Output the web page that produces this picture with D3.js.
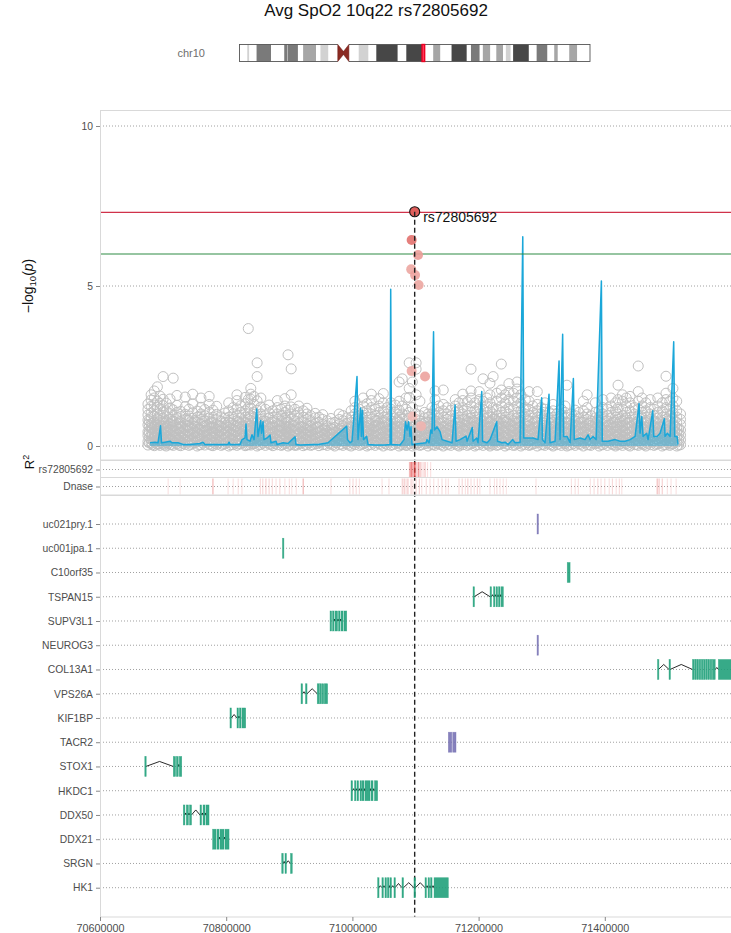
<!DOCTYPE html>
<html><head><meta charset="utf-8">
<script src="https://cdn.jsdelivr.net/npm/d3@7"></script>
<style>
html,body{margin:0;padding:0;background:#fff;}
svg{display:block;font-family:"Liberation Sans",Arial,Helvetica,sans-serif;}
</style>
</head><body>
<svg id="chart" width="731" height="933"></svg>
<script>
// ---------------- DATA ----------------
const titleText = "Avg SpO2 10q22 rs72805692";
const chromName = "chr10";
const chromLengthMb = 135.534747;
// hg19 chr10 cytobands [startMb, endMb, stain]
const chromBands = [
 [0,3,"gneg"],[3,3.8,"gpos25"],[3.8,6.6,"gneg"],[6.6,12.2,"gpos75"],[12.2,17.3,"gneg"],
 [17.3,18.6,"gpos75"],[18.6,18.7,"gneg"],[18.7,22.6,"gpos75"],[22.6,24.6,"gneg"],[24.6,29.6,"gpos50"],
 [29.6,31.3,"gneg"],[31.3,34.4,"gpos25"],[34.4,38,"gneg"],[38,40.2,"acen"],[40.2,42.3,"acen"],
 [42.3,46.1,"gneg"],[46.1,49.9,"gpos25"],[49.9,52.9,"gneg"],[52.9,61.2,"gpos100"],[61.2,64.5,"gneg"],
 [64.5,70.6,"gpos100"],[70.6,74.9,"gneg"],[74.9,77.7,"gpos50"],[77.7,82,"gneg"],[82,87.9,"gpos100"],
 [87.9,89.5,"gneg"],[89.5,92.9,"gpos75"],[92.9,94.1,"gneg"],[94.1,97,"gpos50"],[97,99.3,"gneg"],
 [99.3,101.9,"gpos50"],[101.9,103,"gneg"],[103,104.9,"gpos25"],[104.9,105.8,"gneg"],[105.8,111.9,"gpos100"],
 [111.9,114.9,"gneg"],[114.9,119.1,"gpos75"],[119.1,121.7,"gneg"],[121.7,123.1,"gpos50"],[123.1,127.5,"gneg"],
 [127.5,130.6,"gpos50"],[130.6,135.534747,"gneg"]
];
const highlightMb = [70.6, 71.6];

const xDomain = [70600000, 71600000];
const xTicks = [70600000, 70800000, 71000000, 71200000, 71400000];
const yTicks = [0, 5, 10];
const gwsLine = 7.3;
const suggestiveLine = 6;
const leadSnp = {name: "rs72805692", kb: 71098.7, logp: 7.32};

// SNP association results: [position (kb), -log10(p) values of SNPs around that position...]
const snpColumns = [
 [70676,.03,.14,.33,.45,.66,.81,.97,1.14,1.31],
 [70681,.08,.21,.36,.57,.7,.9,1.03,1.24,1.44,1.6],
 [70686,.01,.13,.29,.4,.6,.73,.92,1.1,1.28,1.5,1.72],
 [70691,.05,.2,.32,.52,.65,.85,1.0,1.2,1.4,1.85],
 [70695,.02,.17,.3,.48,.62,.8,.96,1.16,1.33,1.56],
 [70700,.06,.23,.39,.53,.72,.87,1.07,1.26,1.46,2.17],
 [70705,0,.11,.28,.44,.57,.75,.91,1.1,1.34],
 [70711,.04,.18,.35,.49,.68,.82,1.01,1.19,1.47],
 [70716,.02,.15,.31,.46,.64,.78,.96,1.13,2.12],
 [70722,.07,.24,.37,.56,.7,.89,1.05,1.27,1.58],
 [70728,.01,.12,.26,.43,.59,.73,.92,1.08],
 [70735,.05,.19,.34,.51,.66,.84,.99,1.23,1.53],
 [70741,.02,.16,.3,.47,.62,.8,.94,1.15],
 [70747,.08,.22,.4,.54,.71,.87,1.04,1.31,1.62],
 [70754,0,.13,.27,.41,.58,.74,.9,1.09],
 [70760,.04,.2,.33,.5,.68,.83,1.0,1.21,1.5],
 [70766,.03,.15,.32,.46,.63,.79,.95,1.14],
 [70773,.06,.21,.38,.55,.7,.88,1.06,1.3,1.55],
 [70779,.01,.12,.28,.42,.57,.74,.9,1.12],
 [70785,.05,.18,.34,.51,.67,.82,.99,1.24],
 [70792,.02,.16,.3,.47,.62,.78,.91],
 [70798,.07,.23,.39,.55,.72,.87,1.03],
 [70804,0,.11,.27,.43,.58,.75,.9,1.1,1.35],
 [70811,.04,.19,.35,.5,.66,.83,1.01,1.2],
 [70817,.02,.15,.31,.48,.63,.79,.95,1.16,1.42,1.6],
 [70823,.07,.22,.37,.54,.71,.88,1.05,1.26],
 [70830,.01,.13,.27,.42,.59,.74,.9,1.1,1.32,1.52],
 [70835,.04,.19,.34,.5,.67,.84,1.0,1.2,1.45,3.67],
 [70839,.03,.16,.31,.47,.63,.79,.95,1.18,1.46,1.62,1.8],
 [70844,.07,.22,.38,.55,.71,.88,1.06,1.3,1.55],
 [70849,0,.12,.27,.43,.58,.74,.9,1.12,1.41,2.17,2.6],
 [70855,.05,.19,.35,.5,.67,.83,1.0,1.22,1.5],
 [70862,.02,.16,.31,.46,.63,.78,.95,1.15],
 [70868,.06,.22,.38,.55,.7,.88,1.04,1.28],
 [70874,.01,.12,.27,.42,.58,.74,.9,1.1],
 [70881,.04,.19,.34,.5,.67,.83,1.0,1.2,1.42],
 [70887,.02,.16,.31,.47,.63,.79,.95,1.15],
 [70893,.07,.22,.38,.55,.71,.88,1.05,1.25,1.48],
 [70898,0,.12,.27,.42,.58,.74,.9,1.12,2.85],
 [70903,.04,.19,.34,.5,.67,.83,1.0,1.22,1.6,2.41],
 [70909,.02,.15,.32,.47,.64,.79,.95,1.15],
 [70915,.07,.22,.38,.54,.71,.88,1.05,1.25],
 [70922,.01,.12,.27,.42,.58,.75,.9,1.1],
 [70928,.04,.19,.34,.5,.67,.83,1.0,1.18],
 [70934,.02,.16,.31,.47,.63,.79,.95],
 [70941,.07,.22,.38,.55,.71,.88,1.02],
 [70947,.01,.12,.27,.42,.58,.74,.9],
 [70953,.04,.19,.34,.5,.67,.83,.98],
 [70960,.02,.16,.31,.47,.63,.79],
 [70966,.07,.22,.38,.55,.71,.86],
 [70972,0,.12,.27,.42,.58,.74],
 [70979,.04,.19,.34,.5,.67,.83,1.0],
 [70985,.02,.16,.31,.47,.63,.79,.95],
 [70991,.07,.22,.38,.55,.71,.88],
 [70998,0,.12,.27,.42,.58,.74,.9,1.1],
 [71004,.04,.19,.34,.5,.67,.83,1.0,1.2,1.4],
 [71011,.02,.16,.31,.47,.63,.79,.95,1.15],
 [71017,.07,.22,.38,.55,.71,.88,1.05,1.25,1.5],
 [71023,0,.12,.27,.42,.58,.74,.9,1.1,1.32],
 [71030,.04,.19,.34,.5,.67,.83,1.0,1.2,1.42,1.62],
 [71036,.02,.16,.31,.47,.63,.79,.95,1.15],
 [71042,.07,.22,.38,.55,.71,.88,1.05,1.25,1.48],
 [71049,0,.12,.27,.42,.58,.74,.9,1.1,1.35,1.64],
 [71055,.04,.19,.34,.5,.67,.83,1.0,1.2],
 [71061,.02,.16,.31,.47,.63,.79,.95,1.15,1.35],
 [71068,.07,.22,.38,.55,.71,.88,1.05,1.28],
 [71074,0,.12,.27,.42,.58,.74,.9,1.12,1.4,2.0],
 [71079,.04,.19,.34,.5,.67,.83,1.0,1.25,2.1],
 [71085,.02,.16,.31,.47,.63,.79,.95,1.15,1.5],
 [71090,.07,.22,.38,.55,.71,.88,1.05,1.52,1.8,2.6],
 [71095,0,.12,.27,.42,.58,.74,1.2,2.0],
 [71101,.04,.19,.34,.5,.67,.83,1.0,1.6,2.4,2.6],
 [71107,.02,.16,.31,.47,.63,.79,.95,1.4],
 [71114,.07,.22,.38,.55,.71,.88,1.05],
 [71120,0,.12,.27,.42,.58,.74,.9,1.0],
 [71126,.04,.19,.34,.5,.67,.83,1.0,1.2],
 [71131,.02,.16,.31,.47,.63,.79,.95,1.15,1.45,1.72],
 [71137,.07,.22,.38,.55,.71,.88,1.05,1.25],
 [71144,0,.12,.27,.42,.58,.74,.9,1.1,1.3,1.75],
 [71150,.04,.19,.34,.5,.67,.83,1.0,1.2],
 [71156,.02,.16,.31,.47,.63,.79,.95,1.12],
 [71163,.07,.22,.38,.55,.71,.88,1.05,1.25,1.45],
 [71169,0,.12,.27,.42,.58,.74,.9,1.1,1.35],
 [71175,.04,.19,.34,.5,.67,.83,1.0,1.2,1.42,1.62],
 [71182,.02,.16,.31,.47,.63,.79,.95,1.15,1.38],
 [71188,.07,.22,.38,.55,.71,.88,1.05,1.25,1.5,1.72,2.4],
 [71194,0,.12,.27,.42,.58,.74,.9,1.1,1.35],
 [71201,.04,.19,.34,.5,.67,.83,1.0,1.2,1.45,1.7],
 [71207,.02,.16,.31,.47,.63,.79,.95,1.15,1.4,2.1],
 [71213,.07,.22,.38,.55,.71,.88,1.05,1.25,1.5],
 [71218,0,.12,.27,.42,.58,.74,.9,1.1,1.35,1.6,1.96],
 [71223,.04,.19,.34,.5,.67,.83,1.0,1.2,2.17],
 [71229,.02,.16,.31,.47,.63,.79,.95,1.15,1.4,1.65],
 [71236,.07,.22,.38,.55,.71,.88,1.05,1.25,1.5,1.75,2.56],
 [71242,0,.12,.27,.42,.58,.74,.9,1.1,1.35,1.6],
 [71248,.04,.19,.34,.5,.67,.83,1.0,1.2,1.45,1.7,1.95],
 [71255,.02,.16,.31,.47,.63,.79,.95,1.15,1.4,1.65],
 [71261,.07,.22,.38,.55,.71,.88,1.05,1.25,1.5,1.78,2.0],
 [71267,0,.12,.27,.42,.58,.74,.9,1.1,1.35,1.6],
 [71274,.04,.19,.34,.5,.67,.83,1.0,1.2,1.45],
 [71280,.02,.16,.31,.47,.63,.79,.95,1.15,1.4,1.7],
 [71286,.07,.22,.38,.55,.71,.88,1.05,1.25],
 [71293,0,.12,.27,.42,.58,.74,.9,1.1,1.3,1.7],
 [71299,.04,.19,.34,.5,.67,.83,1.0,1.2],
 [71305,.02,.16,.31,.47,.63,.79,.95,1.15,1.35],
 [71312,.07,.22,.38,.55,.71,.88,1.05],
 [71318,0,.12,.27,.42,.58,.74,.9,1.1,1.3],
 [71324,.04,.19,.34,.5,.67,.83,1.0],
 [71331,.02,.16,.31,.47,.63,.79,.95,1.15],
 [71337,.07,.22,.38,.55,.71,.88,1.05,1.25],
 [71340,0,.12,.27,.42,.58,.74,.9,1.9],
 [71347,.04,.19,.34,.5,.67,.83,1.0],
 [71353,.02,.16,.31,.47,.63,.79,.95,1.12],
 [71359,.07,.22,.38,.55,.71,.88,1.05],
 [71366,0,.12,.27,.42,.58,.74,.9,1.1,1.4],
 [71372,.04,.19,.34,.5,.67,.83,1.0,1.2,1.6],
 [71378,.02,.16,.31,.47,.63,.79,.95],
 [71385,.07,.22,.38,.55,.71,.88,1.05,1.35],
 [71391,0,.12,.27,.42,.58,.74,.9,1.1],
 [71397,.04,.19,.34,.5,.67,.83,1.0,1.2,1.45],
 [71404,.02,.16,.31,.47,.63,.79,.95,1.15],
 [71410,.07,.22,.38,.55,.71,.88,1.05,1.25,1.5],
 [71417,0,.12,.27,.42,.58,.74,.9,1.1,1.35],
 [71421,.04,.19,.34,.5,.67,.83,1.0,1.2,1.45,1.9],
 [71428,.02,.16,.31,.47,.63,.79,.95,1.15,1.4,1.6],
 [71434,.07,.22,.38,.55,.71,.88,1.05,1.25,1.5],
 [71440,0,.12,.27,.42,.58,.74,.9,1.1,1.35,1.55],
 [71447,.04,.19,.34,.5,.67,.83,1.0,1.2],
 [71453,.02,.16,.31,.47,.63,.79,.95,1.15,1.4,1.7,2.5],
 [71459,.07,.22,.38,.55,.71,.88,1.05,1.25,1.5],
 [71465,0,.12,.27,.42,.58,.74,.9,1.1,1.35],
 [71472,.04,.19,.34,.5,.67,.83,1.0,1.2,1.45],
 [71478,.02,.16,.31,.47,.63,.79,.95,1.15],
 [71484,.07,.22,.38,.55,.71,.88,1.05,1.25,1.5],
 [71491,0,.12,.27,.42,.58,.74,.9,1.1,1.35],
 [71497,.04,.19,.34,.5,.67,.83,1.0,1.2,1.45,1.65,2.18],
 [71503,.02,.16,.31,.47,.63,.79,.95,1.15,1.4],
 [71508,.07,.22,.38,.55,.71,.88,1.05,1.25,1.5,1.8],
 [71514,0,.12,.27,.42,.58,.74,.9,1.1,1.4],
 [71520,.04,.19,.34,.5,.67,.83,1.0]
];
// additional low-significance SNPs lying between the columns above
const snpColumnsLow = [
 [70678,.1,.26,.44,.6,.78],[70683,.04,.2,.37,.53,.7],[70688,.12,.3,.48,.66],[70693,.07,.23,.41,.57,.75],
 [70697,.1,.27,.45,.62],[70702,.03,.19,.36,.55,.72],[70708,.09,.25,.43,.61],[70713,.05,.22,.4,.58,.76],
 [70719,.11,.29,.46,.64],[70725,.03,.18,.35,.52,.7],[70731,.08,.26,.42,.6],[70738,.12,.28,.47,.63,.8],
 [70744,.05,.21,.38,.56],[70750,.1,.27,.44,.62,.79],[70757,.04,.2,.36,.54],[70763,.09,.25,.43,.6,.77],
 [70769,.12,.3,.47,.65],[70776,.03,.19,.37,.55,.72],[70782,.08,.24,.41,.58],[70788,.1,.27,.45,.63],
 [70795,.05,.21,.38,.55],[70801,.11,.28,.46,.64],[70807,.04,.2,.37,.53,.71],[70814,.09,.26,.44,.61],
 [70820,.06,.22,.39,.57,.74],[70826,.1,.28,.45,.62],[70832,.03,.19,.36,.54,.72],[70837,.12,.29,.47,.65],
 [70841,.07,.23,.4,.58],[70846,.1,.26,.43,.61,.79],[70852,.04,.21,.38,.56],[70858,.09,.25,.42,.6,.77],
 [70865,.11,.28,.46,.63],[70871,.05,.22,.39,.57],[70877,.08,.24,.41,.59,.76],[70884,.12,.3,.47,.64],
 [70890,.04,.2,.37,.55],[70895,.1,.27,.44,.62,.8],[70900,.06,.23,.4,.58],[70906,.11,.28,.45,.63],
 [70912,.03,.19,.36,.54],[70918,.09,.26,.43,.6],[70925,.05,.21,.39,.56],[70931,.1,.27,.44,.61],
 [70937,.04,.2,.37,.53],[70944,.08,.25,.42,.58],[70950,.12,.28,.45],[70956,.05,.22,.38,.55],
 [70963,.09,.25,.41],[70969,.04,.2,.36,.52],[70975,.1,.27,.43],[70982,.06,.22,.39,.56],
 [70988,.11,.28,.44],[70994,.03,.19,.36,.53],[71001,.08,.24,.41,.59],[71007,.12,.29,.46,.64],
 [71014,.05,.21,.38,.56,.74],[71020,.1,.26,.43,.61],[71026,.04,.2,.37,.55,.72],[71033,.09,.25,.42,.6],
 [71039,.11,.28,.46,.64,.8],[71045,.05,.22,.39,.57],[71052,.08,.24,.41,.59,.76],[71058,.12,.3,.47,.65],
 [71064,.04,.2,.37,.55],[71071,.1,.27,.44,.62,.79],[71076,.06,.23,.4,.58],[71082,.11,.28,.45,.63],
 [71087,.03,.19,.36,.54],[71092,.09,.26,.43],[71098,.05,.21,.39],[71104,.1,.27,.44,.61],
 [71110,.04,.2,.37,.53,.7],[71117,.08,.25,.42,.58],[71123,.12,.28,.45,.62],[71128,.05,.22,.38,.55,.73],
 [71134,.09,.25,.41,.6],[71140,.04,.2,.36,.52,.7],[71147,.1,.27,.43,.61],[71153,.06,.22,.39,.56],
 [71159,.11,.28,.44,.62],[71166,.03,.19,.36,.53,.71],[71172,.08,.24,.41,.59],[71178,.12,.29,.46,.64,.82],
 [71185,.05,.21,.38,.56,.74],[71191,.1,.26,.43,.61,.79],[71197,.04,.2,.37,.55,.72],[71204,.09,.25,.42,.6,.78],
 [71210,.11,.28,.46,.64],[71215,.05,.22,.39,.57,.75],[71220,.08,.24,.41,.59,.77],[71226,.12,.3,.47,.65,.83],
 [71232,.04,.2,.37,.55,.73],[71239,.1,.27,.44,.62,.8],[71245,.06,.23,.4,.58,.76],[71251,.11,.28,.45,.63],
 [71258,.03,.19,.36,.54,.72],[71264,.09,.26,.43,.6,.78],[71270,.05,.21,.39,.56],[71277,.1,.27,.44,.61,.79],
 [71283,.04,.2,.37,.53],[71289,.08,.25,.42,.58,.76],[71296,.12,.28,.45,.62],[71302,.05,.22,.38,.55,.73],
 [71308,.09,.25,.41,.6],[71315,.04,.2,.36,.52,.7],[71321,.1,.27,.43,.61],[71327,.06,.22,.39,.56,.74],
 [71334,.11,.28,.44,.62],[71343,.03,.19,.36,.53,.71],[71350,.08,.24,.41,.59],[71356,.12,.29,.46,.64],
 [71362,.05,.21,.38,.56,.74],[71369,.1,.26,.43,.61],[71375,.04,.2,.37,.55,.72],[71381,.09,.25,.42,.6],
 [71388,.11,.28,.46,.64,.8],[71394,.05,.22,.39,.57],[71400,.08,.24,.41,.59,.77],[71407,.12,.3,.47,.65],
 [71413,.04,.2,.37,.55,.73],[71419,.1,.27,.44,.62],[71424,.06,.23,.4,.58,.76],[71431,.11,.28,.45,.63,.81],
 [71437,.03,.19,.36,.54,.72],[71443,.09,.26,.43,.6],[71450,.05,.21,.39,.56,.74],[71456,.1,.27,.44,.61],
 [71462,.04,.2,.37,.53,.71],[71468,.08,.25,.42,.58,.76],[71475,.12,.28,.45,.62],[71481,.05,.22,.38,.55,.73],
 [71487,.09,.25,.41,.6],[71494,.04,.2,.36,.52,.7],[71500,.1,.27,.43,.61,.79],[71505,.06,.22,.39,.56],
 [71511,.11,.28,.44,.62],[71517,.03,.19,.36,.53]
];

// SNPs in LD with the lead SNP: [position (kb), -log10(p), r2]
const ldSnps = [
 [71093.9,6.44,.85],[71104.0,5.97,.5],[71093.2,5.52,.42],[71099.3,5.34,.45],[71105.0,5.03,.42],
 [71093.9,2.34,.38],[71115.1,2.17,.45],[71095.4,0.92,.22],[71108.8,0.62,.3]
];

// blue signal track: [position (kb), value]
const trackLine = [
 [70679.3,.1],[70687.2,.12],[70691.9,.1],[70695.9,.63],[70697.5,.1],[70703,.12],[70711,.15],[70714.1,.1],
 [70723.6,.1],[70731.6,.05],[70742.7,.05],[70758.5,.08],[70763.3,.12],[70766.4,.05],[70782.3,.05],
 [70802.9,.05],[70804.5,.12],[70806.1,.05],[70821.9,.05],[70825.1,.2],[70829.8,.25],[70831.4,.69],
 [70833,.2],[70837.8,.15],[70840.9,.35],[70844.1,.2],[70848.4,1.16],[70850.4,.3],[70854.7,.8],
 [70856,.4],[70858.4,.76],[70859.9,.2],[70864.7,.25],[70869.5,.34],[70871,.1],[70879,.15],[70880.5,.05],
 [70890.1,.1],[70898,.08],[70904.3,.2],[70909.1,.29],[70910.7,.05],[70917,.03],[70937.6,.05],
 [70945.5,.05],[70961.4,.1],[70991,.62],[70992.3,.2],[70996.3,.1],[70999.4,.15],[71007.3,2.17],
 [71008.9,.2],[71013.1,1.19],[71014.3,.3],[71016,1.12],[71017.6,.2],[71022.6,.3],[71024.8,.05],
 [71035.9,.03],[71051.7,.03],[71059.7,.05],[71060.7,4.9],[71062,.05],[71075.5,.03],[71081.8,.2],
 [71084.2,.76],[71086.6,.5],[71089,.76],[71091.4,.3],[71092.9,.6],[71094.5,.05],[71107.2,.08],
 [71116.7,.1],[71118.3,.2],[71121.5,.1],[71124.2,.5],[71126.2,.4],[71127.3,2.06],[71128.6,3.57],
 [71130.2,.5],[71134.1,.6],[71138.9,.45],[71142.1,.2],[71150,.15],[71157.9,.1],[71162.7,1.28],
 [71164.3,.15],[71170.6,.2],[71180.1,.31],[71181.7,.15],[71190,.58],[71191.2,.15],[71197,.25],
 [71199.1,.1],[71205,1.7],[71206.3,.15],[71213.4,.1],[71218.2,.2],[71228.8,.76],[71230,.15],
 [71237.2,.1],[71241.9,.12],[71246.7,.05],[71254.1,.2],[71257.8,.1],[71265.7,.12],[71270,6.54],
 [71271.6,.25],[71276.8,.25],[71286.3,.25],[71294.2,.2],[71300,1.51],[71301.2,.2],[71305.3,.1],
 [71311.6,1.62],[71313.2,.1],[71321.2,.15],[71327.5,2.66],[71329.1,.2],[71333.2,3.49],[71334.8,.3],
 [71340.2,.3],[71345,.1],[71350.2,2.11],[71351.6,.2],[71360.8,.25],[71368.7,.2],[71373.5,.35],
 [71376.7,.2],[71381.4,.3],[71386.2,.2],[71394.6,5.16],[71396,.15],[71405.2,.15],[71416.3,.2],
 [71424.2,.15],[71432.1,.15],[71440.1,.2],[71448,.3],[71454.3,1.33],[71455.9,.4],[71458.6,.92],
 [71460.7,.3],[71466.4,.4],[71468.6,.2],[71476,1.1],[71477.6,.3],[71482.8,.3],[71487.6,.4],
 [71494.4,.85],[71495.5,.3],[71499.2,.4],[71503.5,.3],[71509.2,3.26],[71510.8,.3],[71514.5,.3],[71516.1,.05]
];

const trackNames = ["rs72805692", "Dnase"];
// LD (r2) with rs72805692: [position (kb), r2]
const ldTicks = [
 [71090.5,.4],[71092,.6],[71093.9,.85],[71095.4,.3],[71096.5,.55],[71098.7,1],[71099.3,.5],[71101,.45],
 [71104,.5],[71105,.45],[71107,.35],[71108.8,.3],[71112,.25],[71115.1,.4],[71119,.2],[71124,.2]
];
// DNase hypersensitivity sites: [position (kb), score]
const dnaseTicks = [
 [70708,.3],[70727,.25],[70779,.8],[70803,.3],[70811,.3],[70819,.3],[70825,.3],[70854,.4],[70858,.4],
 [70863,.5],[70868,.4],[70873,.4],[70879,.3],[70885,.4],[70893,.3],[70900,.3],[70904,.25],[70911,.3],
 [70922,.8],[70966,.3],[70996,.35],[71001,.4],[71006,.35],[71011,.3],[71047,.3],[71058,.3],[71079,.5],
 [71082,.6],[71085,.4],[71088,.6],[71093,.5],[71096,.4],[71101,.4],[71106,.5],[71110,.3],[71117,.35],
 [71123,.3],[71129,.3],[71136,.3],[71142,.35],[71148,.3],[71152,.3],[71169,.35],[71174,.4],[71179,.3],
 [71183,.45],[71188,.35],[71193,.3],[71198,.4],[71202,.3],[71218,.3],[71225,.3],[71229,.35],[71234,.3],
 [71239,.3],[71244,.25],[71291,.3],[71347,.3],[71353,.3],[71358,.3],[71377,.3],[71383,.35],[71389,.4],
 [71394,.3],[71400,.35],[71407,.3],[71412,.4],[71418,.3],[71423,.35],[71427,.3],[71483,.7],[71486,.6],
 [71491,.5],[71499,.3],[71505,.3],[71513,.3]
];

const geneNames = ["uc021pry.1","uc001jpa.1","C10orf35","TSPAN15","SUPV3L1","NEUROG3","COL13A1","VPS26A",
 "KIF1BP","TACR2","STOX1","HKDC1","DDX50","DDX21","SRGN","HK1"];
const geneGroup = ["b","a","a","a","a","b","a","a","a","b","a","a","a","a","a","a"];
// exons per gene [startKb, endKb]
const geneExons = [
 [[71292.6,71293.8]],
 [[70889.2,70890.4]],
 [[71340.5,71345]],
 [[71191.2,71193],[71218.2,71220.3],[71223.7,71225.3],[71227.7,71230],[71231.6,71234],[71235.6,71239.2]],
 [[70964.6,70967],[70968.5,70970.9],[70972.5,70976.4],[70978,70980.4],[70982,70985.2],[70986.7,70991]],
 [[71292.6,71294]],
 [[71483.5,71485],[71501.8,71503.4],[71539,71541.5],[71542.5,71545],[71546,71548.5],[71549.5,71552],
  [71553,71555.5],[71556.5,71559],[71560,71562.5],[71563.5,71566],[71567,71569.5],[71570.5,71575],[71580,71605]],
 [[70918.6,70921],[70925.7,70928.1],[70944.3,70947],[70948,70951],[70952,70954.5],[70955.5,70960.7]],
 [[70806,70808],[70817.1,70819.4],[70821,70823.5],[70825,70830.9]],
 [[71152,71157.5],[71159,71164.2]],
 [[70671,70672.6],[70716.2,70719.7],[70721.1,70724],[70725.7,70729.5]],
 [[70997.8,71000.2],[71003.4,71005],[71007.3,71009.8],[71012.1,71013.7],[71015.3,71018.4],[71020,71027.9],
  [71029.5,71032.7],[71035,71040]],
 [[70732,70734.6],[70736.8,70740.1],[70741.9,70745],[70758.5,70760.9],[70763.3,70766.4],[70768,70772.8]],
 [[70778.5,70783.9],[70785.4,70788.6],[70790.2,70796.5],[70798.1,70804.5]],
 [[70888,70890.4],[70893.2,70894.8],[70901.9,70904.7]],
 [[71040,71041.6],[71046.8,71048.4],[71051.6,71054],[71055.5,71057.9],[71059.5,71061.9],[71065.9,71067.5],
  [71078.6,71081],[71097.6,71100],[71115.1,71116.7],[71119.9,71122.2],[71123.8,71126.2],[71129.4,71152]]
];

// ---------------- DRAWING ----------------
const svg = d3.select("#chart");
const L = 100, R = 731;
const TXT = "#4d4d4d", BORDER = "#d9d9d9", GRID = "#a0a0a0";
const x = d3.scaleLinear().domain(xDomain).range([L, R]);
const kbx = k => x(k * 1000);

const defs = svg.append("defs");
defs.append("clipPath").attr("id","clipPanels").append("rect").attr("x",L).attr("y",100).attr("width",R-L+5).attr("height",830);

// Title
svg.append("text").attr("x",376).attr("y",15.5).attr("text-anchor","middle")
  .attr("font-size",17).attr("fill","#111").text(titleText);

// Ideogram
const ix = d3.scaleLinear().domain([0, chromLengthMb]).range([239.5, 590]);
const iy0 = 44.5, iy1 = 61.5, imid = (iy0 + iy1) / 2;
const stainColor = {gneg:"#ffffff", gpos25:"#d2d2d2", gpos50:"#a6a6a6", gpos75:"#7a7a7a", gpos100:"#474747"};
const ideo = svg.append("g");
ideo.selectAll("rect.band").data(chromBands.filter(b => b[2] !== "acen")).join("rect")
  .attr("class","band").attr("x", d => ix(d[0])).attr("y", iy0)
  .attr("width", d => ix(d[1]) - ix(d[0])).attr("height", iy1 - iy0).attr("fill", d => stainColor[d[2]]);
ideo.append("rect").attr("x", ix(0)).attr("y", iy0).attr("width", ix(chromLengthMb) - ix(0)).attr("height", iy1 - iy0)
  .attr("fill","none").attr("stroke","#555").attr("stroke-width",0.9);
const acen = chromBands.filter(b => b[2] === "acen");
ideo.append("rect").attr("x", ix(acen[0][0])).attr("y", iy0 - 1).attr("width", ix(acen[1][1]) - ix(acen[0][0])).attr("height", iy1 - iy0 + 2).attr("fill","#fff");
ideo.append("polygon").attr("points", [[ix(acen[0][0]),iy0],[ix(acen[0][1]),imid-1.5],[ix(acen[0][1]),imid+1.5],[ix(acen[0][0]),iy1]].join(" "))
  .attr("fill","#8b2a22").attr("stroke","#6b1a14").attr("stroke-width",0.5);
ideo.append("polygon").attr("points", [[ix(acen[1][0]),imid-1.5],[ix(acen[1][1]),iy0],[ix(acen[1][1]),iy1],[ix(acen[1][0]),imid+1.5]].join(" "))
  .attr("fill","#8b2a22").attr("stroke","#6b1a14").attr("stroke-width",0.5);
ideo.append("rect").attr("x", ix(highlightMb[0])).attr("y", iy0).attr("width", Math.max(2.5, ix(highlightMb[1]) - ix(highlightMb[0]))).attr("height", iy1 - iy0)
  .attr("fill","#ff3b5c").attr("stroke","#ee0022").attr("stroke-width",1.4);
svg.append("text").attr("x",205).attr("y",57).attr("text-anchor","end").attr("font-size",11).attr("fill","#6e6e6e").text(chromName);

// ---- main panel ----
const mainTop = 110, mainBot = 460;
const y = d3.scaleLinear().domain([-0.4375, 10.5]).range([mainBot, mainTop]);
const main = svg.append("g");
main.selectAll("line.grid").data(yTicks).join("line").attr("class","grid")
  .attr("x1",L).attr("x2",R).attr("y1",d=>y(d)).attr("y2",d=>y(d))
  .attr("stroke",GRID).attr("stroke-width",1).attr("stroke-dasharray","1,2");

const snps = snpColumns.concat(snpColumnsLow).flatMap(c => c.slice(1).map(v => ({kb: c[0], logp: v})));
main.append("g").selectAll("circle").data(snps).join("circle")
  .attr("cx", d => kbx(d.kb)).attr("cy", d => y(d.logp)).attr("r",5)
  .attr("fill","none").attr("stroke","#c0c0c0").attr("stroke-width",1);

const area = d3.area().x(d => kbx(d[0])).y0(y(0)).y1(d => y(d[1]));
const line = d3.line().x(d => kbx(d[0])).y(d => y(d[1]));
main.append("path").datum(trackLine).attr("d", area).attr("fill","#1ea7d8").attr("fill-opacity",0.45);
main.append("path").datum(trackLine).attr("d", line).attr("fill","none").attr("stroke","#1aa7d9").attr("stroke-width",1.5).attr("stroke-linejoin","round");

main.append("line").attr("x1",L).attr("x2",R).attr("y1",y(gwsLine)).attr("y2",y(gwsLine)).attr("stroke","#d0324a").attr("stroke-width",1.2);
main.append("line").attr("x1",L).attr("x2",R).attr("y1",y(suggestiveLine)).attr("y2",y(suggestiveLine)).attr("stroke","#2e8b45").attr("stroke-width",1.2);

const ldColor = d3.scaleLinear().domain([0,1]).range(["#f6d9d3","#df5f5c"]).interpolate(d3.interpolateRgb);
main.append("g").selectAll("circle").data(ldSnps).join("circle")
  .attr("cx", d => kbx(d[0])).attr("cy", d => y(d[1])).attr("r",5)
  .attr("fill", d => ldColor(d[2])).attr("fill-opacity",0.9).attr("stroke","none");

// dashed vertical line through all panels
svg.append("line").attr("x1",kbx(leadSnp.kb)).attr("x2",kbx(leadSnp.kb)).attr("y1",y(leadSnp.logp)).attr("y2",917)
  .attr("stroke","#222").attr("stroke-width",1.4).attr("stroke-dasharray","5,3");

main.append("circle").attr("cx",kbx(leadSnp.kb)).attr("cy",y(leadSnp.logp)).attr("r",5)
  .attr("fill",ldColor(1)).attr("stroke","#111").attr("stroke-width",1.1);
main.append("text").attr("x",kbx(leadSnp.kb)+8.5).attr("y",y(leadSnp.logp)+10.5).attr("font-size",14).attr("fill","#111").text(leadSnp.name);

main.append("rect").attr("x",L+0.5).attr("y",mainTop+0.5).attr("width",R-L+10).attr("height",mainBot-mainTop-0.5)
  .attr("fill","none").attr("stroke",BORDER);
const yAxis = d3.axisLeft(y).tickValues(yTicks).tickSize(4).tickPadding(3).tickFormat(d3.format("d"));
svg.append("g").attr("class","ax").attr("transform",`translate(${L},0)`).call(yAxis);

// y label
const ylab = svg.append("text").attr("transform","translate(33,286) rotate(-90)").attr("text-anchor","middle")
  .attr("font-size",14).attr("fill","#111");
ylab.append("tspan").text("\u2212log");
ylab.append("tspan").attr("font-size",9.5).attr("dy",3).text("10");
ylab.append("tspan").attr("dy",-3).text("(");
ylab.append("tspan").attr("font-style","italic").text("p");
ylab.append("tspan").text(")");

// ---- LD / Dnase tracks ----
const trackY = d3.scalePoint().domain(trackNames).range([469.5, 486.5]);
const tracks = svg.append("g");
tracks.selectAll("line.grid").data(trackNames).join("line").attr("class","grid")
  .attr("x1",L).attr("x2",R).attr("y1",d=>trackY(d)).attr("y2",d=>trackY(d))
  .attr("stroke",GRID).attr("stroke-dasharray","1,2");
tracks.append("g").selectAll("line").data(ldTicks).join("line")
  .attr("x1",d=>kbx(d[0])).attr("x2",d=>kbx(d[0])).attr("y1",462).attr("y2",477)
  .attr("stroke","#e23b3b").attr("stroke-opacity",d=>d[1]*0.75).attr("stroke-width",1.2);
tracks.append("g").selectAll("line").data(dnaseTicks).join("line")
  .attr("x1",d=>kbx(d[0])).attr("x2",d=>kbx(d[0])).attr("y1",478.5).attr("y2",494.5)
  .attr("stroke","#de4a4a").attr("stroke-opacity",d=>d[1]*0.6).attr("stroke-width",1);
tracks.append("rect").attr("x",L+0.5).attr("y",460.5).attr("width",R-L+10).attr("height",17).attr("fill","none").attr("stroke",BORDER);
tracks.append("rect").attr("x",L+0.5).attr("y",477.5).attr("width",R-L+10).attr("height",17.5).attr("fill","none").attr("stroke",BORDER);
svg.append("g").attr("class","ax").attr("transform",`translate(${L},0)`).call(d3.axisLeft(trackY).tickSize(4).tickPadding(3));
svg.append("text").attr("transform","translate(34,462) rotate(-90)").attr("text-anchor","middle")
  .attr("font-size",13).attr("fill","#111").text("R").append("tspan").attr("font-size",9).attr("dy",-5).text("2");

// ---- Gene track ----
const geneTop = 495, geneBot = 917;
const gyScale = d3.scalePoint().domain(geneNames).range([524, 887.7]);
const genes = svg.append("g").attr("clip-path","url(#clipPanels)");
genes.selectAll("line.grid").data(geneNames).join("line").attr("class","grid")
  .attr("x1",L).attr("x2",R).attr("y1",d=>gyScale(d)).attr("y2",d=>gyScale(d))
  .attr("stroke",GRID).attr("stroke-dasharray","1,2");
const groupColor = {a:"#1b9e77", b:"#7570b3"};
geneNames.forEach((name, i) => {
  const cy = gyScale(name);
  const ex = geneExons[i];
  const col = groupColor[geneGroup[i]];
  const g = genes.append("g");
  for (let j = 0; j < ex.length - 1; j++) {
    const a = kbx(ex[j][1]), b = kbx(ex[j+1][0]);
    if (b - a < 1) continue;
    const m = (a + b) / 2;
    const h = Math.min(5, Math.max(2, (b - a) * 0.6));
    g.append("path").attr("d", `M${a},${cy}L${m},${cy-h}L${b},${cy}`)
      .attr("fill","none").attr("stroke","#111").attr("stroke-width",0.9);
  }
  g.selectAll("rect").data(ex).join("rect")
    .attr("x", d => kbx(d[0])).attr("y", cy - 10)
    .attr("width", d => Math.max(1.4, kbx(d[1]) - kbx(d[0]))).attr("height", 20)
    .attr("fill", col).attr("fill-opacity",0.88).attr("stroke", col).attr("stroke-opacity",0.6).attr("stroke-width",0.6);
});
svg.append("rect").attr("x",L+0.5).attr("y",geneTop+0.5).attr("width",R-L+10).attr("height",geneBot-geneTop-0.5)
  .attr("fill","none").attr("stroke",BORDER);
svg.append("g").attr("class","ax").attr("transform",`translate(${L},0)`).call(d3.axisLeft(gyScale).tickSize(4).tickPadding(3));

// x axis
svg.append("g").attr("class","axx").attr("transform",`translate(0,${geneBot})`)
  .call(d3.axisBottom(x).tickValues(xTicks).tickSize(4).tickPadding(3).tickFormat(d3.format("d")));

// axis styling
svg.selectAll(".domain").remove();
svg.selectAll(".tick line").attr("stroke","#888");
svg.selectAll(".tick text").attr("fill",TXT).attr("font-family",'"Liberation Sans",Arial,sans-serif');
svg.selectAll(".ax .tick text").attr("font-size",10.3);
svg.selectAll(".axx .tick text").attr("font-size",10.8);
</script>
</body></html>
